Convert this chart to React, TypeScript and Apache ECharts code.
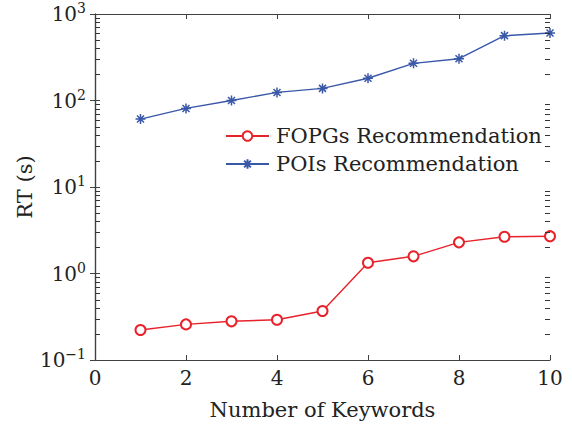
import React, { useEffect, useRef } from "react";
import * as echarts from "echarts";

const keywords = [1, 2, 3, 4, 5, 6, 7, 8, 9, 10];
const fopgs = [0.222, 0.258, 0.28, 0.292, 0.368, 1.33, 1.58, 2.29, 2.66, 2.7];
const pois = [61, 81, 100, 124, 138, 181, 269, 304, 562, 603];
const seriesNames = ["FOPGs Recommendation", "POIs Recommendation"];
const xTicks = [0, 2, 4, 6, 8, 10];
const yDecades = [0.1, 1, 10, 100, 1000];
const minorTicks: number[] = [];
for (const d of [0.1, 1, 10, 100]) {
  for (const m of [2, 3, 4, 5, 6, 7, 8, 9]) minorTicks.push(+(d * m).toPrecision(3));
}

const FONT = "DejaVu Serif";
const AXIS = "#404040";
const TEXT = "#222222";
const RED = "#e8222a";
const BLUE = "#3a58a8";
const STAR = "path://M5,0 L5,10 M0,5 L10,5 M1.5,1.5 L8.5,8.5 M1.5,8.5 L8.5,1.5";

export default function App() {
  const ref = useRef<HTMLDivElement>(null);
  useEffect(() => {
    document.body.style.margin = "0";
    const chart = echarts.init(ref.current!, undefined, { renderer: "svg" });
    const expOf = (v: number) => Math.round(Math.log10(v));
    const xMin = xTicks[0];
    const xMax = xTicks[xTicks.length - 1];
    const tickData: number[][] = [];
    minorTicks.forEach((v) => {
      tickData.push([xMin, v, 1]);
      tickData.push([xMax, v, -1]);
    });
    chart.setOption({
      animation: false,
      backgroundColor: "#ffffff",
      grid: { left: 95, top: 14, right: 22, bottom: 65 },
      legend: {
        data: seriesNames,
        orient: "vertical",
        left: 220,
        top: 120,
        itemWidth: 43,
        itemHeight: 12,
        itemGap: 6,
        textStyle: { fontFamily: FONT, fontSize: 21, color: TEXT, lineHeight: 22, padding: [0, 0, 0, 2] },
      },
      xAxis: [
        {
          type: "value",
          min: xMin,
          max: xMax,
          interval: 2,
          name: "Number of Keywords",
          nameLocation: "middle",
          nameGap: 39,
          nameMoveOverlap: false,
          nameTextStyle: { fontFamily: FONT, fontSize: 21, color: TEXT },
          axisLine: { lineStyle: { color: AXIS, width: 1.2 } },
          axisTick: { inside: true, length: 5, lineStyle: { color: AXIS } },
          axisLabel: { fontFamily: FONT, fontSize: 20, color: TEXT, margin: 8 },
          splitLine: { show: false },
        },
        {
          type: "value",
          position: "top",
          min: xMin,
          max: xMax,
          interval: 2,
          axisLine: { show: true, lineStyle: { color: AXIS, width: 1.2 } },
          axisTick: { inside: true, length: 5, lineStyle: { color: AXIS } },
          axisLabel: { show: false },
          splitLine: { show: false },
        },
      ],
      yAxis: [
        {
          type: "log",
          logBase: 10,
          min: yDecades[0],
          max: yDecades[yDecades.length - 1],
          name: "RT (s)",
          nameLocation: "middle",
          nameGap: 60,
          nameMoveOverlap: false,
          nameTextStyle: { fontFamily: FONT, fontSize: 21, color: TEXT },
          axisLine: { show: true, lineStyle: { color: AXIS, width: 1.2 } },
          axisTick: { inside: true, length: 5, lineStyle: { color: AXIS } },
          axisLabel: {
            margin: 9,
            formatter: (v: number) => `{b|10}{s|${expOf(v) < 0 ? "\u2212" + Math.abs(expOf(v)) : expOf(v)}}`,
            rich: {
              b: { fontFamily: FONT, fontSize: 20, color: TEXT },
              s: { fontFamily: FONT, fontSize: 14, color: TEXT, padding: [0, 0, 12, 0] },
            },
          },
          splitLine: { show: false },
        },
        {
          type: "log",
          logBase: 10,
          position: "right",
          min: yDecades[0],
          max: yDecades[yDecades.length - 1],
          axisLine: { show: true, lineStyle: { color: AXIS, width: 1.2 } },
          axisTick: { inside: true, length: 5, lineStyle: { color: AXIS } },
          axisLabel: { show: false },
          splitLine: { show: false },
        },
      ],
      series: [
        {
          name: seriesNames[0],
          type: "line",
          data: keywords.map((k, i) => [k, fopgs[i]]),
          symbol: "emptyCircle",
          symbolSize: 10,
          lineStyle: { color: RED, width: 1.4 },
          itemStyle: { color: RED, borderColor: RED, borderWidth: 1.4 },
          z: 3,
        },
        {
          name: seriesNames[1],
          type: "line",
          data: keywords.map((k, i) => [k, pois[i]]),
          symbol: STAR,
          symbolSize: 10,
          lineStyle: { color: BLUE, width: 1.4 },
          itemStyle: { color: BLUE, borderColor: BLUE, borderWidth: 1.5 },
          z: 3,
        },
        {
          type: "custom",
          silent: true,
          clip: false,
          xAxisIndex: 0,
          yAxisIndex: 0,
          encode: { x: 0, y: 1 },
          data: tickData,
          renderItem: (_p: any, api: any) => {
            const p = api.coord([api.value(0), api.value(1)]);
            const dir = api.value(2);
            const y = Math.round(p[1]) + 0.5;
            return {
              type: "line",
              shape: { x1: p[0], y1: y, x2: p[0] + dir * 5, y2: y },
              style: { stroke: "#333333", lineWidth: 1 },
            };
          },
          z: 5,
        },
      ],
    });
    return () => chart.dispose();
  }, []);
  return <div ref={ref} style={{ width: 572, height: 425 }} />;
}
